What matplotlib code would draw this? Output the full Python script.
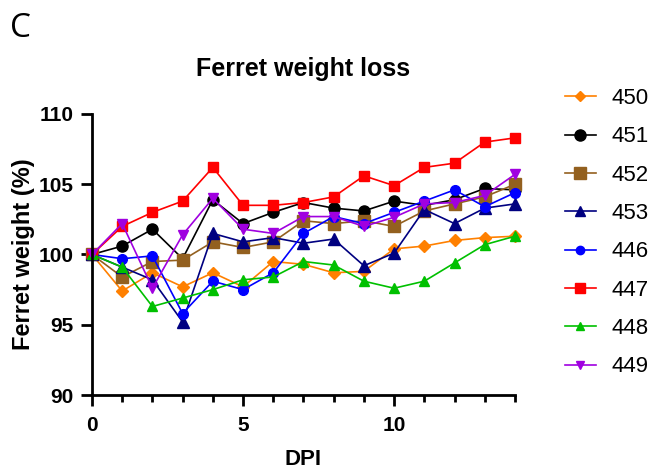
"""Ferret weight loss over days post infection (panel C)."""

import matplotlib

matplotlib.use("Agg")
import matplotlib.pyplot as plt
from matplotlib.ticker import MultipleLocator

plt.rcParams["font.family"] = ["Liberation Sans", "DejaVu Sans"]

dpi_days = list(range(15))

ferret_ids = ["450", "451", "452", "453", "446", "447", "448", "449"]

weight_450 = [100, 97.4, 98.7, 97.7, 98.7, 97.7, 99.5, 99.3, 98.7, 98.8,
              100.4, 100.6, 101.0, 101.2, 101.3]
weight_451 = [100, 100.6, 101.8, 99.7, 103.9, 102.2, 103.0, 103.7, 103.3,
              103.1, 103.8, 103.5, 103.9, 104.7, 104.6]
weight_452 = [100, 98.4, 99.5, 99.6, 100.9, 100.5, 100.9, 102.4, 102.2,
              102.4, 102.0, 103.1, 103.6, 104.1, 105.0]
weight_453 = [100, 99.1, 98.2, 95.2, 101.5, 100.9, 101.2, 100.8, 101.1,
              99.2, 100.1, 103.2, 102.2, 103.3, 103.6]
weight_446 = [100, 99.7, 99.9, 95.8, 98.1, 97.5, 98.7, 101.5, 102.7, 102.2,
              103.0, 103.8, 104.6, 103.4, 104.4]
weight_447 = [100, 102.0, 103.0, 103.8, 106.2, 103.5, 103.5, 103.7, 104.1,
              105.6, 104.9, 106.2, 106.5, 108.0, 108.3]
weight_448 = [100, 99.1, 96.3, 96.9, 97.5, 98.2, 98.4, 99.5, 99.25, 98.1,
              97.6, 98.1, 99.4, 100.7, 101.3]
weight_449 = [100, 102.2, 97.6, 101.4, 104.0, 101.8, 101.5, 102.7, 102.7,
              102.0, 102.65, 103.6, 103.7, 104.2, 105.7]

series = [weight_450, weight_451, weight_452, weight_453,
          weight_446, weight_447, weight_448, weight_449]
colors = ["#FF8000", "#000000", "#93601F", "#000080",
          "#0000FF", "#FF0000", "#00C000", "#A000E0"]
markers = ["D", "o", "s", "^", "o", "s", "^", "v"]
marker_sizes = [6, 8, 8, 8, 7, 7, 7, 7]
legend_sizes = [5, 8, 8, 7, 6, 7, 6, 6]

fig = plt.figure(figsize=(6.51, 4.73), dpi=100)
ax = fig.add_axes([0.1413, 0.1649, 0.6497, 0.5941])

lines = []
for values, color, marker, size, label in zip(
        series, colors, markers, marker_sizes, ferret_ids):
    (line,) = ax.plot(dpi_days, values, color=color, marker=marker,
                      markersize=size, markeredgecolor=color,
                      linewidth=1.2, label=label, clip_on=False)
    lines.append(line)

ax.set_xlim(0, 14)
ax.set_ylim(90, 110)
ax.xaxis.set_major_locator(MultipleLocator(5))
ax.xaxis.set_minor_locator(MultipleLocator(1))
ax.yaxis.set_major_locator(MultipleLocator(5))

for spine in ("top", "right"):
    ax.spines[spine].set_visible(False)
for spine in ("left", "bottom"):
    ax.spines[spine].set_linewidth(2)

ax.tick_params(which="major", length=8, width=2, labelsize=15, pad=5)
ax.tick_params(axis="x", which="major", pad=7)
ax.tick_params(which="minor", length=5, width=2)
for tick_label in ax.get_xticklabels() + ax.get_yticklabels():
    tick_label.set_fontweight("bold")

ax.set_xlabel("DPI", fontsize=16, fontweight="bold", labelpad=10)
ax.set_ylabel("Ferret weight (%)", fontsize=17, fontweight="bold",
              labelpad=3)
ax.set_title("Ferret weight loss", fontsize=18, fontweight="bold", pad=27)

legend = fig.legend(lines, ferret_ids, loc="upper left",
                    bbox_to_anchor=(0.837, 0.856), frameon=False,
                    fontsize=16, handlelength=1.4, handletextpad=0.7,
                    labelspacing=0.78)
for handle, size in zip(legend.legend_handles, legend_sizes):
    handle.set_markersize(size)

fig.text(0.016, 0.975, "C", fontsize=24, family=["Open Sans", "DejaVu Sans"],
         va="top", ha="left")

fig.savefig("out.png", dpi=100)
